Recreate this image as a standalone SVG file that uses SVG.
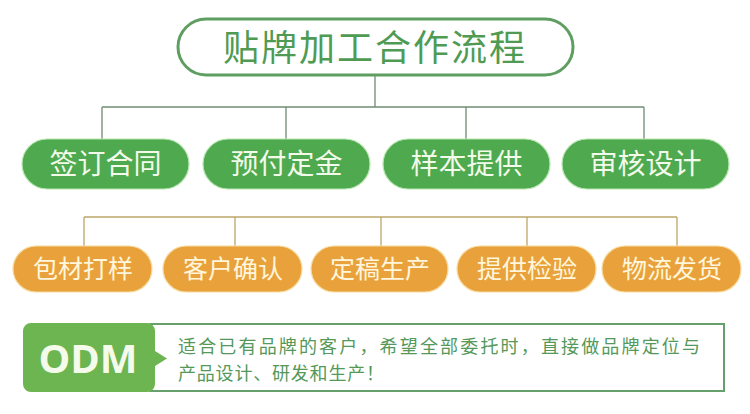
<svg xmlns="http://www.w3.org/2000/svg" width="750" height="414" viewBox="0 0 750 414">
<style>
.cjk{font-family:"Noto Sans CJK SC","Noto Sans",sans-serif}
.g rect{fill:#4ea94f;stroke:#b8e6b0;stroke-width:1.2}
.g text{fill:#f2fbe9;font-size:28px;text-anchor:middle}
.o rect{fill:#e9a23b;stroke:#f6dca0;stroke-width:1.2}
.o text{fill:#fff6dc;font-size:25px;text-anchor:middle}
.l1{stroke:#6f8d74;stroke-width:1.3;fill:none}
.l2{stroke:#bca66a;stroke-width:1.3;fill:none}
</style>
<rect width="750" height="414" fill="#ffffff"/>
<g id="connectors">
<path class="l1" d="M375 75V107M102 107H644M102 107V139M286 107V139M466 107V139M644 107V139"/>
<path class="l2" d="M84 217H677M84 217V246M235 217V246M381 217V246M527 217V246M677 217V246"/>
</g>
<g id="title">
<rect x="178" y="19" width="395" height="56" rx="28" fill="#ffffff" stroke="#5e9f61" stroke-width="3"/>
<text class="cjk" x="375" y="61" font-size="36" fill="#4f9b53" text-anchor="middle" letter-spacing="2">贴牌加工合作流程</text>
</g>
<g id="n1" class="g"><rect x="22" y="139" width="167" height="50" rx="25"/><text class="cjk" x="105.5" y="174">签订合同</text></g>
<g id="n2" class="g"><rect x="203" y="139" width="167" height="50" rx="25"/><text class="cjk" x="286.5" y="174">预付定金</text></g>
<g id="n3" class="g"><rect x="383" y="139" width="167" height="50" rx="25"/><text class="cjk" x="466.5" y="174">样本提供</text></g>
<g id="n4" class="g"><rect x="562" y="139" width="167" height="50" rx="25"/><text class="cjk" x="645.5" y="174">审核设计</text></g>
<g id="m1" class="o"><rect x="13" y="246" width="139" height="46" rx="23"/><text class="cjk" x="83" y="277.5">包材打样</text></g>
<g id="m2" class="o"><rect x="163" y="246" width="139" height="46" rx="23"/><text class="cjk" x="233" y="277.5">客户确认</text></g>
<g id="m3" class="o"><rect x="311" y="246" width="137" height="46" rx="23"/><text class="cjk" x="380" y="277.5">定稿生产</text></g>
<g id="m4" class="o"><rect x="457" y="246" width="139" height="46" rx="23"/><text class="cjk" x="527" y="277.5">提供检验</text></g>
<g id="m5" class="o"><rect x="602" y="246" width="139" height="46" rx="23"/><text class="cjk" x="672" y="277.5">物流发货</text></g>
<g id="odm">
<rect x="150" y="324" width="574" height="67" fill="#ffffff" stroke="#66a06d" stroke-width="2"/>
<path d="M31 323H147A8 8 0 0 1 155 331V351L167 358.5L155 366V384A8 8 0 0 1 147 392H31A8 8 0 0 1 23 384V331A8 8 0 0 1 31 323Z" fill="#6cb551"/>
<text x="88" y="373" font-family="'Open Sans','Liberation Sans',sans-serif" font-weight="bold" font-size="40" fill="#f4fbea" text-anchor="middle">ODM</text>
<text class="cjk" x="178" y="353" font-size="18" fill="#54985a" textLength="522" lengthAdjust="spacing">适合已有品牌的客户，希望全部委托时，直接做品牌定位与</text>
<text class="cjk" x="178" y="380" font-size="18" fill="#54985a" letter-spacing="0.8">产品设计、研发和生产！</text>
</g>
</svg>
